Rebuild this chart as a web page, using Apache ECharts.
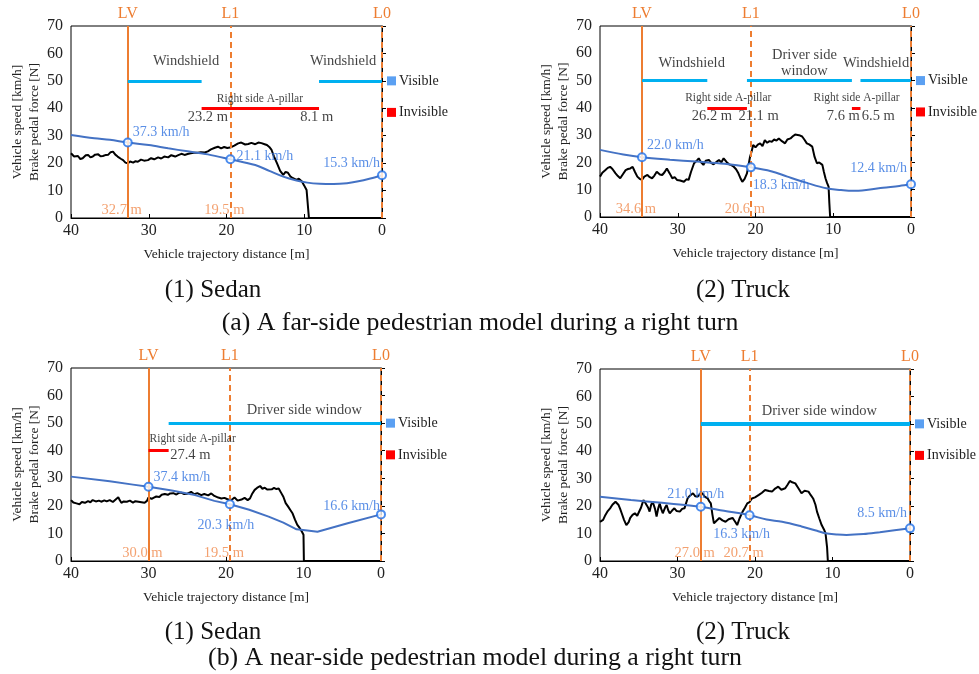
<!DOCTYPE html>
<html><head><meta charset="utf-8">
<script src="https://cdn.jsdelivr.net/npm/echarts@6/dist/echarts.min.js"></script>
<style>html,body{margin:0;padding:0;background:#fff}#c{width:979px;height:674px}</style>
</head><body><div id="c"></div>
<script>
const FONT = '"Liberation Serif","Times New Roman",serif';

// ---------- DATA ----------
const refNames = ['LV', 'L1', 'L0'];
const axisTicksX = [40, 30, 20, 10, 0];

// (a)(1) Sedan, far-side
const sedanFarForce = [[40,23.6],[39.6,22.4],[39.1,22.6],[38.8,21.5],[38.5,21.8],[38.1,22.9],[37.8,23.0],[37.5,22.1],[37.2,22.4],[36.9,23.1],[36.5,23.2],[36.2,22.5],[35.9,22.6],[35.5,23.0],[35.2,23.1],[34.9,24.0],[34.6,24.2],[34.3,23.1],[34.0,22.4],[33.6,21.6],[33.3,21.1],[33.0,20.2],[32.7,19.9],[32.4,20.6],[32.0,20.2],[31.7,20.7],[31.4,20.5],[31.0,21.3],[30.6,20.9],[30.1,21.1],[29.7,21.8],[29.3,21.4],[28.8,22.1],[28.4,21.7],[28.0,22.4],[27.5,22.1],[27.1,22.9],[26.6,22.4],[26.2,22.9],[25.8,23.4],[25.4,23.0],[25.0,23.3],[24.6,23.6],[24.2,23.8],[23.7,23.8],[23.3,24.0],[22.8,23.9],[22.4,24.3],[22.0,25.0],[21.5,25.6],[21.1,26.0],[20.7,25.4],[20.3,25.9],[19.9,25.5],[19.4,25.8],[19.0,26.4],[18.5,27.2],[18.1,27.5],[17.6,26.8],[17.2,27.0],[16.8,27.4],[16.3,26.9],[15.9,27.5],[15.5,27.3],[15.1,26.9],[14.8,26.6],[14.5,25.9],[14.2,24.8],[13.9,22.5],[13.5,19.9],[13.1,17.2],[12.7,15.7],[12.4,16.8],[12.1,16.5],[11.8,15.2],[11.5,14.6],[11.0,13.9],[10.7,14.3],[10.3,13.3],[10.0,11.8],[9.7,10.2],[9.5,9.8],[9.4,0],[5,0],[0,0]];
const sedanFarSpeed = [[40,30.3],[37,29.1],[35,28.5],[32.7,27.5],[30,26.6],[27.5,25.4],[25,24.3],[22.4,23.2],[19.5,21.4],[16.3,19.3],[14.5,17.2],[12.7,15.1],[11,13.7],[9.6,12.9],[8,12.5],[6.2,12.4],[4.5,12.7],[3.2,13.3],[1.5,14.4],[0,15.6]];
const sedanFarRefX = [32.7, 19.5, 0];
const sedanFarMarks = [[32.7,27.5],[19.5,21.4],[0,15.6]];
const sedanFarMarkText = ['37.3 km/h','21.1 km/h','15.3 km/h'];
const sedanFarVisible = [[32.7,23.2],[8.1,0]];
const sedanFarInvisible = [[23.2,8.1]];

// (a)(2) Truck, far-side
const truckFarForce = [[40,14.8],[39.7,16.2],[39.3,17.2],[39.0,18.0],[38.7,18.4],[38.4,17.6],[38.0,16.0],[37.7,15.0],[37.4,14.2],[37.1,15.5],[36.7,17.2],[36.4,17.6],[36.1,17.8],[35.8,18.4],[35.5,16.5],[35.2,14.8],[34.9,14.0],[34.6,13.6],[34.3,14.8],[33.9,15.4],[33.6,14.6],[33.3,14.2],[33.0,15.2],[32.7,16.6],[32.3,15.6],[32.0,15.4],[31.7,16.4],[31.4,17.8],[31.0,15.8],[30.7,14.2],[30.4,14.6],[30.1,13.6],[29.7,13.4],[29.2,12.9],[28.9,13.8],[28.6,13.6],[28.3,16.5],[27.9,19.7],[27.6,20.5],[27.3,21.5],[27.0,20.0],[26.7,19.1],[26.4,20.6],[26.0,20.9],[25.7,19.8],[25.4,19.3],[25.0,20.2],[24.7,20.9],[24.4,20.0],[24.1,21.5],[23.7,20.1],[23.4,19.3],[23.1,19.0],[22.8,18.4],[22.5,17.5],[22.2,16.0],[21.9,14.0],[21.7,12.9],[21.4,14.0],[21.1,16.0],[20.9,19.0],[20.7,22.1],[20.5,24.0],[20.3,26.4],[20.0,25.5],[19.7,26.5],[19.4,27.0],[19.1,26.0],[18.8,28.2],[18.5,27.2],[18.2,27.8],[17.9,27.6],[17.6,28.4],[17.3,28.0],[17.0,28.8],[16.6,27.8],[16.2,27.0],[15.9,28.4],[15.5,28.8],[15.2,29.6],[14.9,30.2],[14.7,30.7],[14.4,30.0],[14.0,29.5],[13.7,28.3],[13.4,27.0],[13.1,26.6],[12.7,25.8],[12.4,22.0],[12.1,19.7],[11.8,20.0],[11.4,19.1],[11.2,16.5],[11.0,14.2],[10.8,12.5],[10.6,11.1],[10.5,5],[10.4,0],[0,0]];
const truckFarSpeed = [[40,24.6],[37,22.9],[34.6,21.9],[31,21.0],[27.6,20.3],[24,19.5],[20.6,18.2],[18,16.8],[15.9,14.8],[13.5,12.6],[10.9,10.5],[9,9.9],[7.5,9.6],[5.5,10.0],[3.6,10.7],[1.5,11.4],[0,12.0]];
const truckFarRefX = [34.6, 20.6, 0];
const truckFarMarks = [[34.6,21.9],[20.6,18.2],[0,12.0]];
const truckFarMarkText = ['22.0 km/h','18.3 km/h','12.4 km/h'];
const truckFarVisible = [[34.6,26.2],[21.1,7.6],[6.5,0]];
const truckFarInvisible = [[26.2,21.1],[7.6,6.5]];

// (b)(1) Sedan, near-side
const sedanNearForce = [[40,22.1],[39.7,21.2],[39.3,20.9],[38.9,20.6],[38.6,21.4],[38.2,21.1],[37.8,21.7],[37.5,21.3],[37.2,22.1],[36.8,21.6],[36.4,21.9],[36.1,21.5],[35.7,22.0],[35.4,21.6],[35.0,22.1],[34.6,21.4],[34.2,22.4],[33.9,23.1],[33.7,22.0],[33.5,21.1],[33.2,21.6],[32.8,21.5],[32.4,21.9],[32.0,21.2],[31.7,21.7],[31.3,21.5],[30.9,21.3],[30.5,21.1],[30.2,21.8],[30.0,23.1],[29.6,22.5],[29.3,23.0],[29.0,23.4],[28.6,23.2],[28.3,24.0],[27.9,24.3],[27.5,24.0],[27.2,24.5],[26.8,24.6],[26.4,24.1],[26.1,24.7],[25.8,24.8],[25.4,24.3],[25.0,24.4],[24.5,25.1],[24.1,24.2],[23.7,24.6],[23.2,23.9],[22.8,24.3],[22.3,23.8],[21.9,24.5],[21.5,23.6],[21.0,23.0],[20.6,22.7],[20.2,22.9],[19.8,22.4],[19.3,22.1],[18.9,23.0],[18.5,21.9],[18.0,22.3],[17.6,22.9],[17.2,22.1],[16.9,22.7],[16.6,24.5],[16.3,25.8],[16.0,26.5],[15.6,27.2],[15.3,26.2],[15.0,26.6],[14.7,25.9],[14.5,26.3],[14.1,26.0],[13.8,26.5],[13.5,26.1],[13.2,26.3],[12.9,24.8],[12.6,23.3],[12.3,21.0],[12.0,19.8],[11.7,18.5],[11.4,17.2],[11.1,15.0],[10.8,13.1],[10.5,12.0],[10.2,10.6],[10.0,9.5],[9.95,0],[0,0]];
const sedanNearSpeed = [[40,30.6],[35,28.9],[32,27.7],[30,26.9],[27,25.6],[24,23.9],[21.5,21.8],[19.5,20.6],[17,18.6],[14.5,16.1],[12.6,13.9],[10.9,11.5],[9.5,11.1],[8.2,10.6],[4.3,13.7],[0,16.9]];
const sedanNearRefX = [30.0, 19.5, 0];
const sedanNearMarks = [[30.0,26.9],[19.5,20.6],[0,16.9]];
const sedanNearMarkText = ['37.4 km/h','20.3 km/h','16.6 km/h'];
const sedanNearVisible = [[27.4,0]];
const sedanNearInvisible = [[30.0,27.4]];

// (b)(2) Truck, near-side
const truckNearForce = [[40,14.3],[39.6,15.0],[39.3,16.8],[39.0,18.2],[38.7,19.2],[38.4,20.5],[38.0,21.6],[37.8,21.0],[37.6,20.4],[37.4,19.0],[37.2,17.4],[36.9,15.0],[36.6,13.1],[36.3,14.2],[36.1,15.7],[35.8,16.8],[35.5,17.4],[35.2,16.5],[35.0,16.8],[34.7,19.5],[34.4,22.2],[34.2,21.4],[34.0,21.6],[33.8,19.5],[33.6,18.0],[33.4,20.5],[33.2,21.6],[32.9,19.0],[32.7,16.2],[32.5,19.0],[32.3,21.0],[32.1,19.0],[31.9,17.4],[31.6,19.5],[31.4,20.4],[31.2,18.5],[31.0,17.4],[30.7,18.4],[30.4,19.2],[30.1,18.2],[29.7,18.0],[29.4,19.0],[29.1,19.2],[28.9,21.0],[28.7,22.8],[28.4,23.8],[28.0,24.7],[27.7,23.6],[27.4,23.5],[27.1,24.4],[26.8,24.7],[26.5,23.5],[26.1,22.8],[25.9,21.8],[25.7,21.0],[25.5,17.0],[25.3,13.7],[25.0,14.6],[24.6,15.7],[24.2,14.8],[23.8,14.3],[23.4,15.2],[22.9,15.7],[22.6,14.5],[22.3,13.1],[22.0,15.5],[21.6,18.0],[21.3,19.4],[21.0,21.0],[20.7,21.5],[20.4,22.8],[20.0,23.2],[19.5,24.1],[19.1,24.9],[18.7,25.9],[18.2,25.5],[17.8,25.3],[17.4,26.4],[17.0,27.1],[16.6,26.0],[16.1,26.5],[15.8,27.8],[15.5,29.2],[15.2,28.7],[14.8,28.3],[14.4,26.5],[14.0,24.7],[13.6,25.6],[13.1,25.3],[12.8,24.0],[12.5,22.8],[12.2,20.5],[12.0,18.0],[11.7,15.5],[11.4,13.1],[11.1,11.5],[10.9,10.1],[10.7,5],[10.6,0],[0,0]];
const truckNearSpeed = [[40,23.4],[36,22.2],[32,21.2],[29,20.4],[27,19.8],[24,18.3],[20.7,16.7],[18.5,15.1],[16.5,14.3],[14,12.6],[12,11.0],[10.9,10.1],[9.5,9.7],[8.2,9.5],[6,9.8],[3.9,10.5],[2,11.2],[0,11.9]];
const truckNearRefX = [27.0, 20.7, 0];
const truckNearMarks = [[27.0,19.8],[20.7,16.7],[0,11.9]];
const truckNearMarkText = ['21.0 km/h','16.3 km/h','8.5 km/h'];
const truckNearVisible = [[27.0,0]];
const truckNearInvisible = [];

// annotation texts: [text, x, y, kind]
const sedanFarNotes = [['Windshield',25.2,57,'big'],['Windshield',5.0,57,'big'],['Right side A-pillar',15.7,43.3,'small'],['23.2 m',22.4,36.6,'big'],['8.1 m',8.4,36.6,'big']];
const truckFarNotes = [['Windshield',28.2,56.3,'big'],['Driver side\nwindow',13.7,56.3,'big'],['Windshield',4.5,56.3,'big'],['Right side A-pillar',23.5,43.7,'small'],['Right side A-pillar',7.0,43.7,'small'],['26.2 m',25.6,36.8,'big'],['21.1 m',19.6,36.8,'big'],['7.6 m',8.7,36.8,'big'],['6.5 m',4.2,36.8,'big']];
const sedanNearNotes = [['Driver side window',9.9,54.8,'big'],['Right side A-pillar',24.3,44.2,'small'],['27.4 m',24.6,38.4,'big']];
const truckNearNotes = [['Driver side window',11.7,54.8,'big']];

const subCaptions = ['(1) Sedan','(2) Truck','(1) Sedan','(2) Truck'];
const groupCaptions = ['(a) A far-side pedestrian model during a right turn','(b) A near-side pedestrian model during a right turn'];

// ---------- LAYOUT ----------
const ORANGE = '#ED7D31', ORANGE_TXT = '#F08A4C', BLUE = '#4472C4', BLUE_TXT = '#2F72E0', CYAN = '#00B0F0', RED = '#FF0000';
const panels = [
  {grid:{left:71,top:26,width:311,height:192}, force:sedanFarForce, speed:sedanFarSpeed, smooth:true, refX:sedanFarRefX, marks:sedanFarMarks, markText:sedanFarMarkText, vis:sedanFarVisible, inv:sedanFarInvisible, notes:sedanFarNotes, visW:3,
   markLab:[['left',[5,-10]],['left',[6,-3]],['right',[-2,-12]]]},
  {grid:{left:600,top:26,width:311,height:191}, force:truckFarForce, speed:truckFarSpeed, smooth:true, refX:truckFarRefX, marks:truckFarMarks, markText:truckFarMarkText, vis:truckFarVisible, inv:truckFarInvisible, notes:truckFarNotes, visW:3,
   markLab:[['left',[5,-12]],['left',[2,18]],['right',[-4,-16]]]},
  {grid:{left:71,top:368,width:310,height:193}, force:sedanNearForce, speed:sedanNearSpeed, smooth:false, refX:sedanNearRefX, marks:sedanNearMarks, markText:sedanNearMarkText, vis:sedanNearVisible, inv:sedanNearInvisible, notes:sedanNearNotes, visW:3,
   markLab:[['left',[5,-10]],['center',[-4,21]],['right',[-1,-8]]]},
  {grid:{left:600,top:369,width:310,height:192}, force:truckNearForce, speed:truckNearSpeed, smooth:true, refX:truckNearRefX, marks:truckNearMarks, markText:truckNearMarkText, vis:truckNearVisible, inv:truckNearInvisible, notes:truckNearNotes, visW:4,
   markLab:[['center',[-5,-12]],['center',[-8,19]],['right',[-3,-15]]]}
];

const grids = [], xAxes = [], yAxes = [], series = [];
panels.forEach((p, i) => {
  grids.push(Object.assign({show:true, borderColor:'#000', borderWidth:1, backgroundColor:'transparent'}, p.grid));
  xAxes.push({type:'value', gridIndex:i, min:0, max:40, interval:10, inverse:true,
    axisLine:{show:true, onZero:false, lineStyle:{color:'#000', width:1}},
    axisTick:{show:true, inside:true, length:4, lineStyle:{color:'#000'}},
    axisLabel:{fontFamily:FONT, fontSize:16, color:'#222', margin:5, formatter:v => axisTicksX.includes(v) ? String(v) : ''},
    splitLine:{show:false},
    name:'Vehicle trajectory distance [m]', nameLocation:'middle', nameGap:29,
    nameTextStyle:{fontFamily:FONT, fontSize:13.5, color:'#222'}});
  yAxes.push({type:'value', gridIndex:i, min:0, max:70, interval:10,
    axisLine:{show:true, lineStyle:{color:'#000', width:1}},
    axisTick:{show:true, inside:true, length:4, lineStyle:{color:'#000'}},
    axisLabel:{fontFamily:FONT, fontSize:16, color:'#222', margin:8},
    splitLine:{show:false},
    name:'Vehicle speed [km/h]\nBrake pedal force [N]', nameLocation:'middle', nameGap:28, nameRotate:90,
    nameTextStyle:{fontFamily:FONT, fontSize:13.5, color:'#222', lineHeight:17}});

  // brake pedal force
  series.push({type:'line', xAxisIndex:i, yAxisIndex:i, data:p.force, showSymbol:false, silent:true, animation:false,
    lineStyle:{color:'#000', width:2}, itemStyle:{color:'#000'}, z:3});

  // reference lines and visibility bars
  const ml = [];
  p.refX.forEach((x, k) => {
    ml.push({xAxis:x, lineStyle:{color:ORANGE, width:2, type: k === 0 ? 'solid' : [6,4]},
      label:{show:true, position:'end', formatter:refNames[k], color:ORANGE, fontFamily:FONT, fontSize:16, distance:4}});
  });
  p.vis.forEach(s => ml.push([{coord:[s[0],50], lineStyle:{color:CYAN, width:p.visW, type:'solid'}, label:{show:false}}, {coord:[s[1],50]}]));
  p.inv.forEach(s => ml.push([{coord:[s[0],40], lineStyle:{color:RED, width:3, type:'solid'}, label:{show:false}}, {coord:[s[1],40]}]));

  // speed
  series.push({type:'line', xAxisIndex:i, yAxisIndex:i, data:p.speed, showSymbol:false, silent:true, animation:false,
    smooth:p.smooth ? 0.35 : false, lineStyle:{color:BLUE, width:2}, itemStyle:{color:BLUE}, z:4,
    markLine:{silent:true, animation:false, symbol:['none','none'], label:{show:false}, data:ml, z:5}});

  // speed markers
  series.push({type:'scatter', xAxisIndex:i, yAxisIndex:i, silent:true, animation:false, z:6,
    symbol:'emptyCircle', symbolSize:8, itemStyle:{color:'#1F6FE8', borderWidth:1.5},
    data:p.marks.map((m, k) => ({value:m, label:{show:true, position:'inside', formatter:p.markText[k],
      align:p.markLab[k][0], verticalAlign:'middle', offset:p.markLab[k][1], color:BLUE_TXT, fontFamily:FONT, fontSize:14}}))});

  // distance labels for LV and L1
  series.push({type:'scatter', xAxisIndex:i, yAxisIndex:i, silent:true, animation:false, z:6, symbolSize:0,
    data:p.refX.slice(0,2).map(x => ({value:[x,3], label:{show:true, position:'inside', formatter:x.toFixed(1)+' m',
      offset:[-6,0], color:ORANGE_TXT, fontFamily:FONT, fontSize:14.5}}))});

  // annotation texts
  series.push({type:'scatter', xAxisIndex:i, yAxisIndex:i, silent:true, animation:false, z:7, symbolSize:0,
    data:p.notes.map(n => ({value:[n[1],n[2]], label:{show:true, position:'inside', formatter:n[0],
      color:'#111', fontFamily:FONT, fontSize: n[3] === 'small' ? 11.5 : 14.5, lineHeight:16}}))});
});

const chart = echarts.init(document.getElementById('c'), null, {renderer:'canvas'});
chart.setOption({animation:false, backgroundColor:'#fff', grid:grids, xAxis:xAxes, yAxis:yAxes, series:series});

// legend boxes and captions
const graphic = [];
panels.forEach((p, i) => {
  const right = p.grid.left + p.grid.width;
  const yv = chart.convertToPixel({xAxisIndex:i, yAxisIndex:i}, [0, 50])[1];
  const yi = chart.convertToPixel({xAxisIndex:i, yAxisIndex:i}, [0, 38.5])[1];
  graphic.push({type:'rect', shape:{x:right+5, y:yv-4.5, width:9, height:9}, style:{fill:'#5BA0F2'}, silent:true});
  graphic.push({type:'text', x:right+17, y:yv, style:{text:'Visible', font:'14px '+FONT, fill:'#222', verticalAlign:'middle'}, silent:true});
  graphic.push({type:'rect', shape:{x:right+5, y:yi-4.5, width:9, height:9}, style:{fill:RED}, silent:true});
  graphic.push({type:'text', x:right+17, y:yi, style:{text:'Invisible', font:'14px '+FONT, fill:'#222', verticalAlign:'middle'}, silent:true});
});
const capPos = [[213,290],[743,290],[213,632],[743,632]];
subCaptions.forEach((t, k) => graphic.push({type:'text', x:capPos[k][0], y:capPos[k][1], style:{text:t, font:'25px '+FONT, fill:'#111', align:'center', verticalAlign:'middle'}, silent:true}));
const grpPos = [[480,323],[475,658]];
groupCaptions.forEach((t, k) => graphic.push({type:'text', x:grpPos[k][0], y:grpPos[k][1], style:{text:t, font:'25.8px '+FONT, fill:'#111', align:'center', verticalAlign:'middle'}, silent:true}));
chart.setOption({graphic:graphic});
</script>
</body></html>
